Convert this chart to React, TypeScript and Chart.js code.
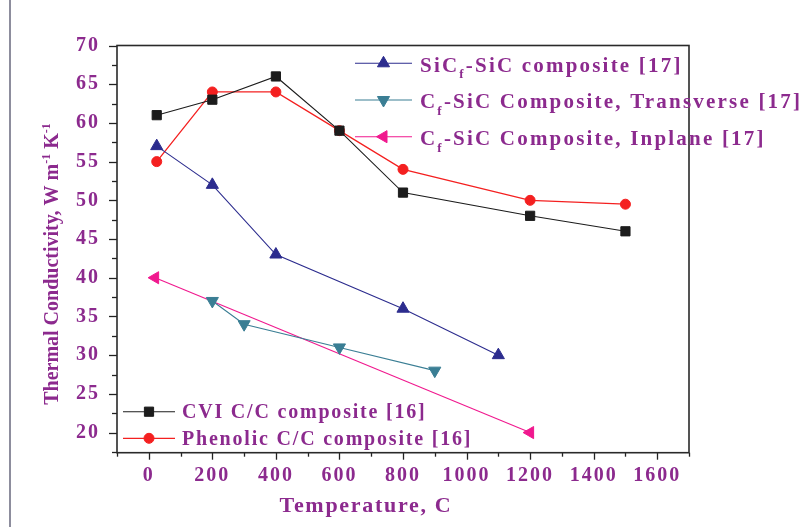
import React, { useEffect, useRef } from 'react';
import { Chart, registerables } from 'chart.js';
import { drawPoint } from 'chart.js/helpers';

Chart.register(...registerables);

// ---- data ----
const sicTemps = [25, 200, 400, 800, 1100];
const sicValues = [57, 52, 43, 36, 30];
const transTemps = [200, 300, 600, 900];
const transValues = [37, 34, 31, 28];
const inplaneTemps = [20, 1200];
const inplaneValues = [40, 20];
const cviTemps = [25, 200, 400, 600, 800, 1200, 1500];
const cviValues = [61, 63, 66, 59, 51, 48, 46];
const phenolicTemps = [25, 200, 400, 600, 800, 1200, 1500];
const phenolicValues = [55, 64, 64, 59, 54, 50, 49.5];

const seriesLabels = [
  'SiC_{f}-SiC composite [17]',
  'C_{f}-SiC Composite, Transverse [17]',
  'C_{f}-SiC Composite, Inplane [17]',
  'CVI C/C composite [16]',
  'Phenolic C/C composite [16]',
];

const xTickLabels = [0, 200, 400, 600, 800, 1000, 1200, 1400, 1600];
const yTickLabels = [20, 25, 30, 35, 40, 45, 50, 55, 60, 65, 70];
const xTitle = 'Temperature, C';
const yTitle = 'Thermal Conductivity, W m^{-1} K^{-1}';

const X_MIN = -100;
const X_MAX = 1700;
const Y_MIN = 17.4;
const Y_MAX = 70;

const PURPLE = '#8c2a8e';
const FONT_FAMILY = '"Liberation Serif", "Times New Roman", serif';

type Seg = { t: string; k: 'n' | 'sub' | 'sup' };
function parseRich(s: string): Seg[] {
  const out: Seg[] = [];
  const re = /([_^])\{([^}]*)\}/g;
  let last = 0;
  let m: RegExpExecArray | null;
  while ((m = re.exec(s))) {
    if (m.index > last) out.push({ t: s.slice(last, m.index), k: 'n' });
    out.push({ t: m[2], k: m[1] === '_' ? 'sub' : 'sup' });
    last = re.lastIndex;
  }
  if (last < s.length) out.push({ t: s.slice(last), k: 'n' });
  return out;
}

function drawRich(ctx: any, s: string, x: number, y: number, size: number, spacing: number, align: 'left' | 'center') {
  const segs = parseRich(s);
  const fontFor = (k: string) => `bold ${k === 'n' ? size : Math.round(size * 0.62)}px ${FONT_FAMILY}`;
  ctx.letterSpacing = spacing + 'px';
  let total = 0;
  const widths = segs.map((sg) => {
    ctx.font = fontFor(sg.k);
    const w = ctx.measureText(sg.t).width;
    total += w;
    return w;
  });
  let cx = align === 'center' ? x - total / 2 : x;
  ctx.textAlign = 'left';
  ctx.textBaseline = 'alphabetic';
  segs.forEach((sg, i) => {
    ctx.font = fontFor(sg.k);
    const dy = sg.k === 'sub' ? size * 0.32 : sg.k === 'sup' ? -size * 0.42 : 0;
    ctx.fillText(sg.t, cx, y + dy);
    cx += widths[i];
  });
  ctx.letterSpacing = '0px';
}

const legendGroups = [
  { items: [0, 1, 2], x0: 355, x1: 412, textX: 420, rows: [63.3, 100, 136.7], baseOff: 8.4, size: 21, spacing: 2.2 },
  { items: [3, 4], x0: 123, x1: 175, textX: 182, rows: [411.7, 438.3], baseOff: 6.7, size: 20, spacing: 1.8 },
];

const spacingPlugin = {
  id: 'tickSpacing',
  beforeDraw(chart: any) {
    chart.ctx.letterSpacing = '2px';
  },
  afterDraw(chart: any) {
    chart.ctx.letterSpacing = '0px';
  },
};

const overlayPlugin = {
  id: 'overlay',
  afterDraw(chart: any) {
    const { ctx, chartArea: a, scales } = chart;
    const xs = scales.x;
    const ys = scales.y;
    ctx.save();
    ctx.letterSpacing = '0px';

    // ticks (major longer, minor shorter)
    ctx.strokeStyle = '#222';
    ctx.lineWidth = 1.3;
    xs.ticks.forEach((t: any) => {
      const px = Math.round(xs.getPixelForValue(t.value)) + 0.5;
      const len = xTickLabels.includes(t.value) ? 7 : 4;
      ctx.beginPath();
      ctx.moveTo(px, a.bottom);
      ctx.lineTo(px, a.bottom + len);
      ctx.stroke();
    });
    ys.ticks.forEach((t: any) => {
      const py = Math.round(ys.getPixelForValue(t.value)) + 0.5;
      const len = yTickLabels.includes(t.value) ? 8 : 5;
      ctx.beginPath();
      ctx.moveTo(a.left, py);
      ctx.lineTo(a.left - len, py);
      ctx.stroke();
    });

    // frame
    ctx.strokeStyle = '#2a2a2a';
    ctx.lineWidth = 1.6;
    ctx.strokeRect(a.left, a.top, a.right - a.left, a.bottom - a.top);

    // axis titles
    ctx.fillStyle = PURPLE;
    drawRich(ctx, xTitle, 366, 512, 22, 1.7, 'center');
    ctx.save();
    ctx.translate(58, 264);
    ctx.rotate(-Math.PI / 2);
    drawRich(ctx, yTitle, 0, 0, 20, 0, 'center');
    ctx.restore();

    // legends
    legendGroups.forEach((g) => {
      g.items.forEach((di, r) => {
        const ds = chart.data.datasets[di];
        const y = g.rows[r];
        ctx.strokeStyle = ds.borderColor;
        ctx.lineWidth = ds.borderWidth;
        ctx.beginPath();
        ctx.moveTo(g.x0, y);
        ctx.lineTo(g.x1, y);
        ctx.stroke();
        ctx.fillStyle = ds.pointBackgroundColor;
        ctx.strokeStyle = ds.pointBorderColor;
        ctx.lineWidth = 1;
        drawPoint(ctx, { pointStyle: ds.pointStyle, radius: ds.pointRadius, rotation: ds.pointRotation, borderWidth: 1 } as any, (g.x0 + g.x1) / 2, y);
        ctx.fillStyle = PURPLE;
        drawRich(ctx, ds.label, g.textX, y + g.baseOff, g.size, g.spacing, 'left');
      });
    });

    ctx.restore();
  },
};

function mk(label: string, xsArr: number[], ysArr: number[], color: string, pointStyle: string, radius: number, rotation = 0, width = 1.1) {
  return {
    label,
    data: xsArr.map((x, i) => ({ x, y: ysArr[i] })),
    borderColor: color,
    backgroundColor: color,
    pointBackgroundColor: color,
    pointBorderColor: color,
    pointBorderWidth: 1,
    borderWidth: width,
    pointStyle,
    pointRadius: radius,
    pointRotation: rotation,
    showLine: true,
    tension: 0,
  };
}

export default function App() {
  const ref = useRef<HTMLCanvasElement>(null);
  useEffect(() => {
    if (!ref.current) return;
    const datasets = [
      mk(seriesLabels[0], sicTemps, sicValues, '#2c2c8e', 'triangle', 7),
      mk(seriesLabels[1], transTemps, transValues, '#3a7e94', 'triangle', 7, 180),
      mk(seriesLabels[2], inplaneTemps, inplaneValues, '#f0188e', 'triangle', 7, 270),
      mk(seriesLabels[3], cviTemps, cviValues, '#1c1c1c', 'rect', 6.5),
      mk(seriesLabels[4], phenolicTemps, phenolicValues, '#f42020', 'circle', 5, 0, 1.3),
    ];
    const tickFont = { family: FONT_FAMILY, size: 20, weight: 'bold' as const };
    const chart = new Chart(ref.current, {
      type: 'scatter',
      data: { datasets: datasets as any },
      options: {
        animation: false,
        responsive: false,
        devicePixelRatio: 1,
        layout: { padding: { left: 0, top: 45.5, right: 115, bottom: 0 } },
        plugins: { legend: { display: false }, tooltip: { enabled: false } },
        scales: {
          x: {
            type: 'linear',
            min: X_MIN,
            max: X_MAX,
            afterBuildTicks: (s: any) => {
              const step = (xTickLabels[1] - xTickLabels[0]) / 2;
              const t: any[] = [];
              for (let v = X_MIN; v <= X_MAX + 1e-6; v += step) t.push({ value: v });
              s.ticks = t;
            },
            afterFit: (s: any) => { s.height = 527 - 452.7; },
            ticks: {
              autoSkip: false,
              maxRotation: 0,
              padding: 3,
              color: PURPLE,
              font: tickFont,
              callback: (v: any) => (xTickLabels.includes(Number(v)) ? String(v) : ''),
            },
            grid: { display: true, drawOnChartArea: false, drawTicks: true, tickLength: 8, color: 'rgba(0,0,0,0)' },
            border: { display: false },
          },
          y: {
            type: 'linear',
            min: Y_MIN,
            max: Y_MAX,
            afterBuildTicks: (s: any) => {
              const step = (yTickLabels[1] - yTickLabels[0]) / 2;
              const t: any[] = [];
              let v = Math.ceil(Y_MIN / step) * step;
              for (; v <= Y_MAX + 1e-6; v += step) t.push({ value: v });
              s.ticks = t;
            },
            afterFit: (s: any) => { s.width = 117; },
            ticks: {
              autoSkip: false,
              padding: 9,
              color: PURPLE,
              font: tickFont,
              callback: (v: any) => (yTickLabels.includes(Number(v)) ? String(v) : ''),
            },
            grid: { display: true, drawOnChartArea: false, drawTicks: true, tickLength: 8, color: 'rgba(0,0,0,0)' },
            border: { display: false },
          },
        },
      },
      plugins: [spacingPlugin, overlayPlugin],
    });
    return () => chart.destroy();
  }, []);

  return (
    <div style={{ position: 'fixed', left: 0, top: 0, width: 804, height: 527, background: '#fff' }}>
      <div style={{ position: 'absolute', left: 9, top: 0, width: 2, height: 527, background: '#8d8d9d' }} />
      <canvas ref={ref} width={804} height={527} style={{ position: 'absolute', left: 0, top: 0, width: 804, height: 527 }} />
    </div>
  );
}
